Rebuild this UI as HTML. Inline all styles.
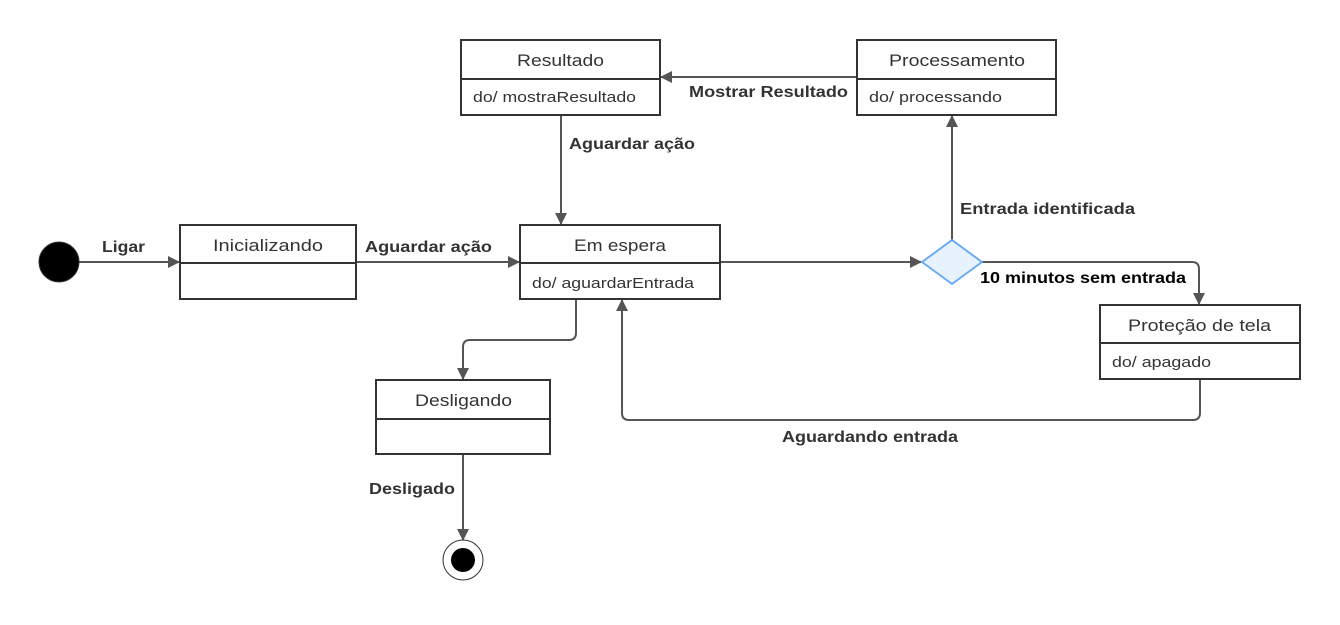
<!DOCTYPE html>
<html><head><meta charset="utf-8"><style>
html,body{margin:0;padding:0;background:#fff;}
svg text{font-family:"Liberation Sans",sans-serif;}
.t{font-size:17px;fill:#333;}
.d{font-size:15px;fill:#333;}
.l{font-size:16px;font-weight:bold;fill:#333;}
.b{fill:#fff;stroke:#333;stroke-width:2;}
.c{fill:none;stroke:#555;stroke-width:2;}
</style></head><body>
<svg width="1340" height="620" viewBox="0 0 1340 620" xmlns="http://www.w3.org/2000/svg">
<defs><marker id="a" markerWidth="12" markerHeight="12" refX="11" refY="6" orient="auto" markerUnits="userSpaceOnUse"><path d="M0,0 L12,6 L0,12 z" fill="#555"/></marker></defs>
<path class="c" d="M79,262 H179" marker-end="url(#a)"/>
<path class="c" d="M356,262 H519" marker-end="url(#a)"/>
<path class="c" d="M720,262 H921" marker-end="url(#a)"/>
<path class="c" d="M952,240 V116" marker-end="url(#a)"/>
<path class="c" d="M857,77 H661" marker-end="url(#a)"/>
<path class="c" d="M561,115 V224" marker-end="url(#a)"/>
<path class="c" d="M982,262 H1192 Q1199,262 1199,269 V304" marker-end="url(#a)"/>
<path class="c" d="M576,299 V333 Q576,340 569,340 H470 Q463,340 463,347 V379" marker-end="url(#a)"/>
<path class="c" d="M1200,379 V413 Q1200,420 1193,420 H629 Q622,420 622,413 V300" marker-end="url(#a)"/>
<path class="c" d="M463,454 V540" marker-end="url(#a)"/>
<circle cx="59" cy="262" r="20" fill="#000" stroke="#333" stroke-width="1"/>
<circle cx="463" cy="560" r="20" fill="#fff" stroke="#333" stroke-width="1"/>
<circle cx="463" cy="560" r="12" fill="#000"/>
<path d="M952,240 L982,262 L952,284 L922,262 Z" fill="#e8f2fd" stroke="#6aaaf5" stroke-width="2" stroke-linejoin="round"/>
<rect class="b" x="180" y="225" width="176" height="74"/><line x1="180" y1="263" x2="356" y2="263" stroke="#333" stroke-width="2"/>
<text class="t" x="213" y="251" textLength="110" lengthAdjust="spacingAndGlyphs">Inicializando</text>
<rect class="b" x="520" y="225" width="200" height="74"/><line x1="520" y1="263" x2="720" y2="263" stroke="#333" stroke-width="2"/>
<text class="t" x="574" y="251" textLength="92" lengthAdjust="spacingAndGlyphs">Em espera</text>
<text class="d" x="532" y="288" textLength="162" lengthAdjust="spacingAndGlyphs">do/ aguardarEntrada</text>
<rect class="b" x="461" y="40" width="199" height="75"/><line x1="461" y1="79" x2="660" y2="79" stroke="#333" stroke-width="2"/>
<text class="t" x="517" y="66" textLength="87" lengthAdjust="spacingAndGlyphs">Resultado</text>
<text class="d" x="473" y="102" textLength="163" lengthAdjust="spacingAndGlyphs">do/ mostraResultado</text>
<rect class="b" x="857" y="40" width="199" height="75"/><line x1="857" y1="79" x2="1056" y2="79" stroke="#333" stroke-width="2"/>
<text class="t" x="889" y="66" textLength="136" lengthAdjust="spacingAndGlyphs">Processamento</text>
<text class="d" x="869" y="102" textLength="133" lengthAdjust="spacingAndGlyphs">do/ processando</text>
<rect class="b" x="376" y="380" width="174" height="74"/><line x1="376" y1="419" x2="550" y2="419" stroke="#333" stroke-width="2"/>
<text class="t" x="415" y="406" textLength="97" lengthAdjust="spacingAndGlyphs">Desligando</text>
<rect class="b" x="1100" y="305" width="200" height="74"/><line x1="1100" y1="343" x2="1300" y2="343" stroke="#333" stroke-width="2"/>
<text class="t" x="1128" y="331" textLength="143" lengthAdjust="spacingAndGlyphs">Proteção de tela</text>
<text class="d" x="1112" y="367" textLength="99" lengthAdjust="spacingAndGlyphs">do/ apagado</text>
<text class="l" x="102" y="252" textLength="43" lengthAdjust="spacingAndGlyphs">Ligar</text>
<text class="l" x="365" y="252" textLength="127" lengthAdjust="spacingAndGlyphs">Aguardar ação</text>
<text class="l" x="569" y="149" textLength="126" lengthAdjust="spacingAndGlyphs">Aguardar ação</text>
<text class="l" x="689" y="97" textLength="159" lengthAdjust="spacingAndGlyphs">Mostrar Resultado</text>
<text class="l" x="960" y="214" textLength="175" lengthAdjust="spacingAndGlyphs">Entrada identificada</text>
<text class="l" x="980" y="283" style="fill:#000" textLength="206" lengthAdjust="spacingAndGlyphs">10 minutos sem entrada</text>
<text class="l" x="782" y="442" textLength="176" lengthAdjust="spacingAndGlyphs">Aguardando entrada</text>
<text class="l" x="369" y="494" textLength="86" lengthAdjust="spacingAndGlyphs">Desligado</text>
</svg>
</body></html>
